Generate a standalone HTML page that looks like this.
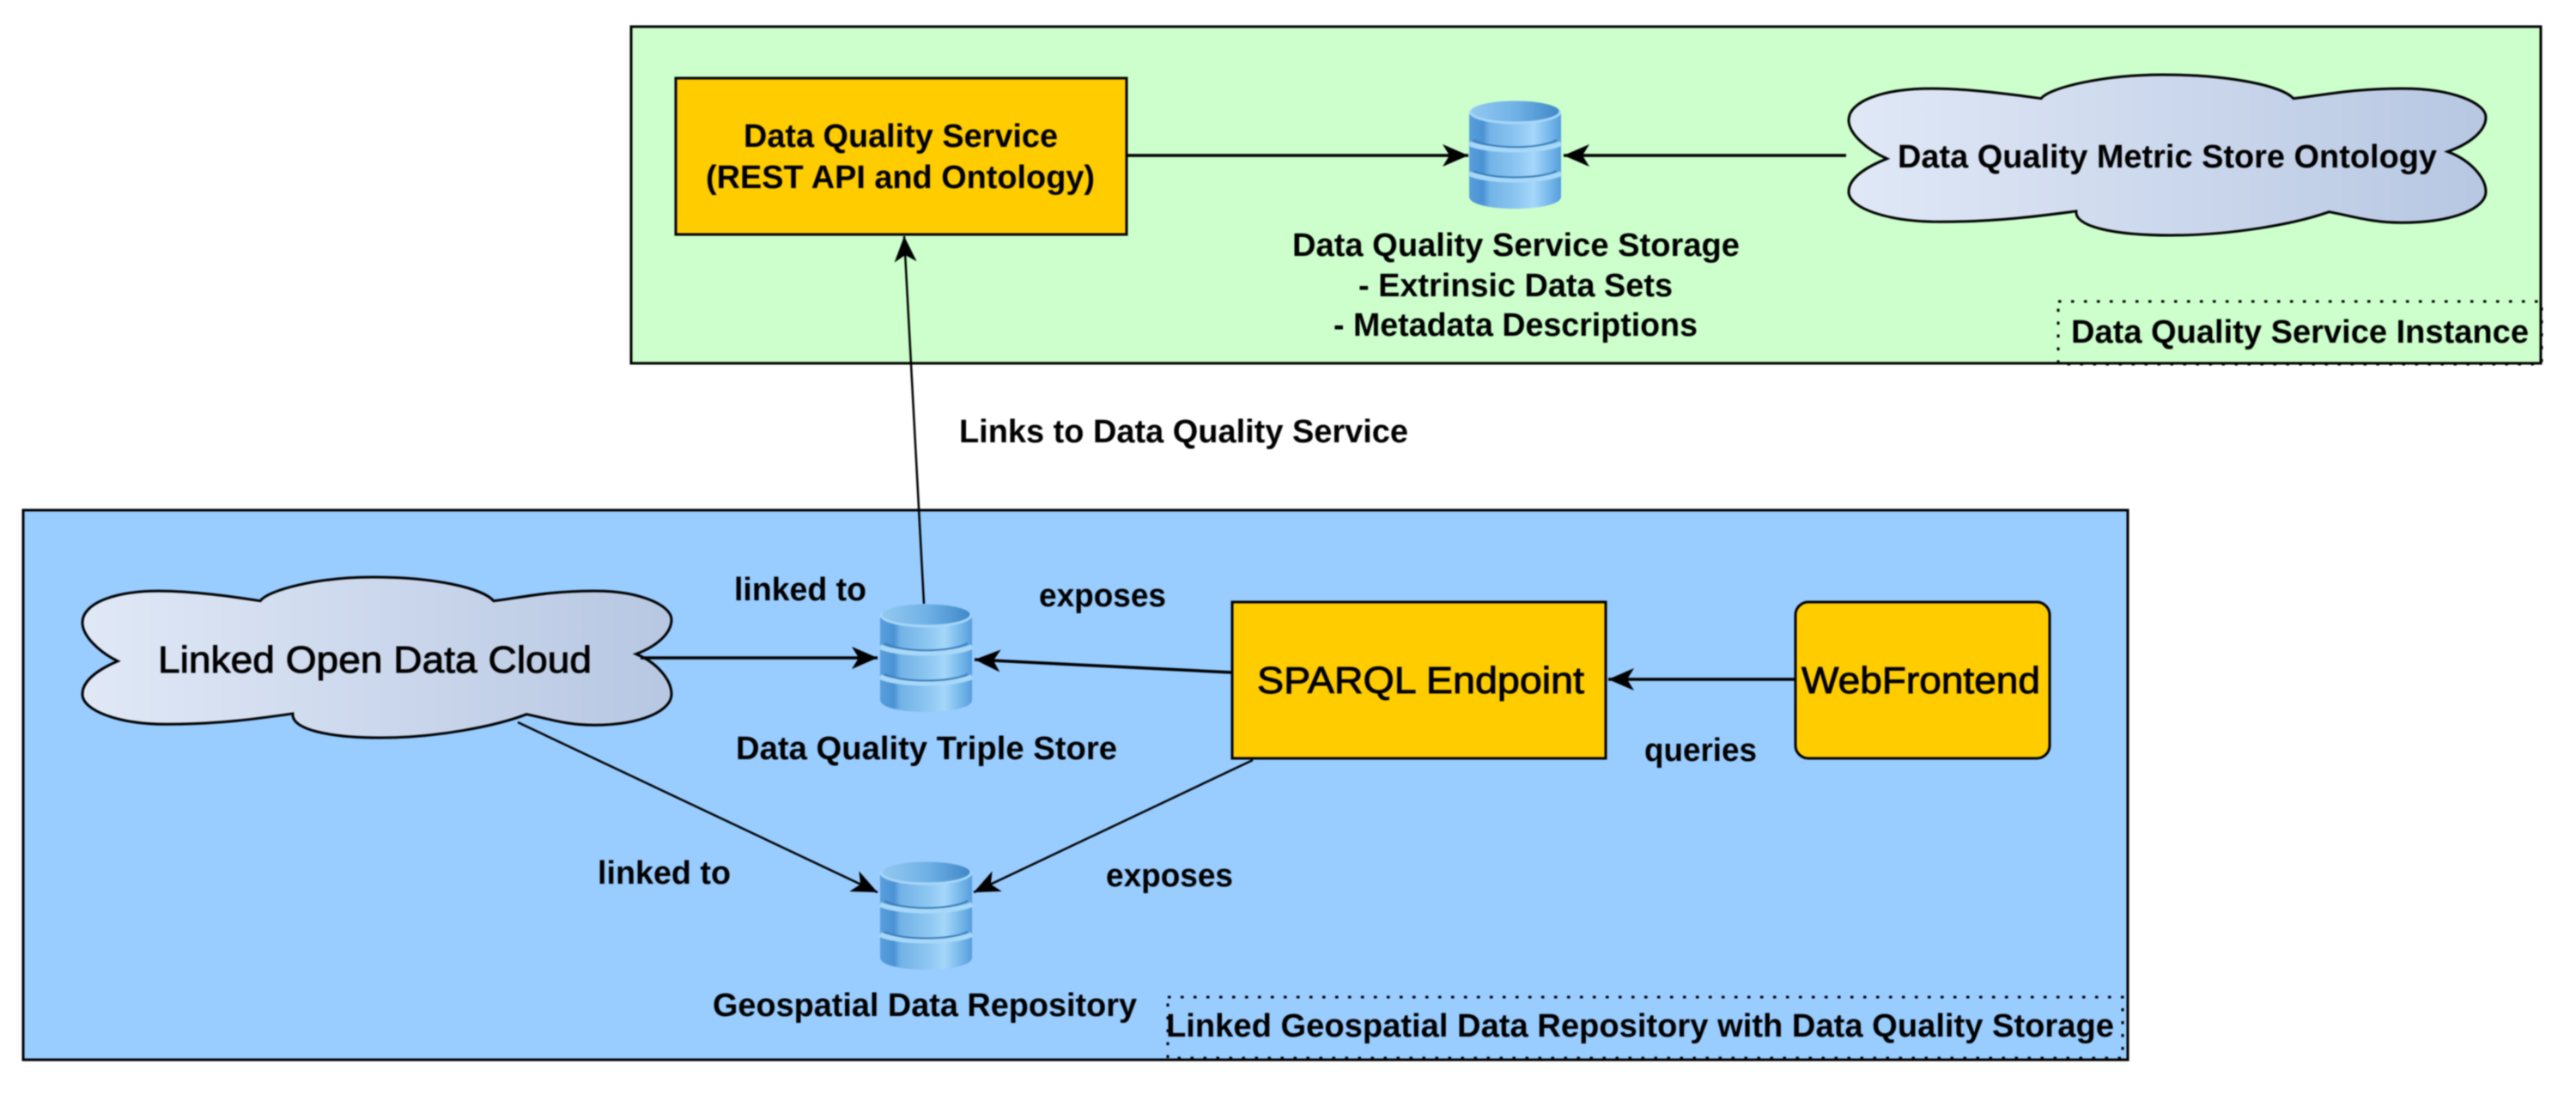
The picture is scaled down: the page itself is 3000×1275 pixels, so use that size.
<!DOCTYPE html>
<html>
<head>
<meta charset="utf-8">
<style>
html,body{margin:0;padding:0;background:#fff}
svg{display:block;filter:blur(0.9px)}
text{font-family:"Liberation Sans",sans-serif;font-weight:bold;fill:#000;font-size:38px}
.r{font-weight:normal;stroke:#000;stroke-width:0.9px;font-size:44px}
.ln{fill:none;stroke:#000;stroke-width:3.5}
.th{fill:none;stroke:#000;stroke-width:2.5}
.dot{fill:none;stroke:#000;stroke-width:3;stroke-dasharray:3.5 11.5}
</style>
</head>
<body>
<svg xmlns="http://www.w3.org/2000/svg" width="3000" height="1275" viewBox="0 0 3000 1275">
<defs>
<linearGradient id="cg" x1="0" x2="1" y1="0" y2="0"><stop offset="0" stop-color="#e0e8f6"/><stop offset="1" stop-color="#b7c7e2"/></linearGradient>
<linearGradient id="bd" x1="0" x2="1" y1="0" y2="0"><stop offset="0" stop-color="#5a9fdc"/><stop offset=".15" stop-color="#4a92d4"/><stop offset=".22" stop-color="#72b2e6"/><stop offset=".55" stop-color="#90c9f3"/><stop offset=".7" stop-color="#a6d7fa"/><stop offset=".88" stop-color="#74b6ea"/><stop offset="1" stop-color="#569cdc"/></linearGradient>
<linearGradient id="tp" x1="0" x2="1" y1="0" y2="0"><stop offset="0" stop-color="#92c8f0"/><stop offset=".5" stop-color="#70b2e6"/><stop offset="1" stop-color="#4088c8"/></linearGradient>
<marker id="a" markerUnits="userSpaceOnUse" viewBox="0 0 30 26" markerWidth="30" markerHeight="26" refX="30" refY="13" orient="auto"><path d="M30,13 L0,0 L8,13 L0,26 Z" fill="#000"/></marker>
<path id="cl" d="M60,523 C30,470 0,370 0,282 C0,170 50,86 130,86 C190,86 260,125 302,148 C315,80 400,0 493,0 C600,0 680,70 698,148 C750,125 790,86 870,86 C950,86 1000,180 1000,264 C1000,350 975,430 940,479 C975,530 1000,640 1000,729 C1000,830 950,921 868,921 C820,921 790,880 754,854 C700,930 600,1000 506,1000 C420,1000 355,950 357,850 C300,880 230,916 144,916 C60,916 0,830 0,729 C0,640 30,570 60,523 Z" fill="url(#cg)" stroke="#000" stroke-width="3" vector-effect="non-scaling-stroke"/>
<g id="cy">
<path d="M0,16 V112 C0,121 25,126 53.5,126 C82,126 107,121 107,112 V16 Z" fill="url(#bd)"/>
<path d="M0,50 C20,60 87,60 107,50" fill="none" stroke="#a8d8f8" stroke-width="6"/>
<path d="M0,85 C20,95 87,95 107,85" fill="none" stroke="#a8d8f8" stroke-width="6"/>
<path d="M5,46 C25,57 82,57 102,46" fill="none" stroke="#3a7cb8" stroke-width="2"/>
<path d="M5,82 C25,92 82,92 102,82" fill="none" stroke="#3a7cb8" stroke-width="2"/>
<ellipse cx="53.5" cy="14" rx="53.5" ry="13.5" fill="#a6d6f8"/>
<ellipse cx="53.5" cy="12.5" rx="51" ry="12" fill="url(#tp)"/>
</g>
</defs>

<rect x="735" y="31" width="2224" height="392" fill="#ccffcc" stroke="#000" stroke-width="3"/>
<rect x="27" y="594" width="2451" height="640" fill="#99ccff" stroke="#000" stroke-width="3"/>

<!-- dotted label frames -->
<rect x="2397" y="351" width="563" height="73" class="dot"/>
<rect x="1360" y="1161" width="1112" height="71" class="dot"/>

<!-- boxes -->
<rect x="787" y="91" width="525" height="182" fill="#ffcc00" stroke="#000" stroke-width="3"/>
<rect x="1435" y="701" width="435" height="182" fill="#ffcc00" stroke="#000" stroke-width="3"/>
<rect x="2091" y="701" width="296" height="182" rx="15" ry="15" fill="#ffcc00" stroke="#000" stroke-width="3"/>

<!-- clouds -->
<use href="#cl" transform="translate(2153 87) scale(.742 .187)"/>
<use href="#cl" transform="translate(96 672) scale(.686 .187)"/>

<!-- cylinders -->
<use href="#cy" transform="translate(1711 117)"/>
<use href="#cy" transform="translate(1025 703)"/>
<use href="#cy" transform="translate(1025 1003)"/>

<!-- connectors -->
<line x1="1312" y1="181" x2="1710" y2="181" class="ln" marker-end="url(#a)"/>
<line x1="2150" y1="181" x2="1821" y2="181" class="ln" marker-end="url(#a)"/>
<line x1="1076" y1="703" x2="1053" y2="275" class="th" marker-end="url(#a)"/>
<line x1="746" y1="766" x2="1022" y2="766" class="ln" marker-end="url(#a)"/>
<line x1="1435" y1="783" x2="1135" y2="768" class="ln" marker-end="url(#a)"/>
<line x1="603" y1="841" x2="1022" y2="1039" class="th" marker-end="url(#a)"/>
<line x1="1459" y1="885" x2="1134" y2="1039" class="th" marker-end="url(#a)"/>
<line x1="2091" y1="791" x2="1873" y2="791" class="ln" marker-end="url(#a)"/>

<!-- labels -->
<text x="866" y="171" textLength="366" lengthAdjust="spacingAndGlyphs">Data Quality Service</text>
<text x="822" y="219" textLength="453" lengthAdjust="spacingAndGlyphs">(REST API and Ontology)</text>
<text x="1505" y="298" textLength="521" lengthAdjust="spacingAndGlyphs">Data Quality Service Storage</text>
<text x="1582" y="345" textLength="366" lengthAdjust="spacingAndGlyphs">- Extrinsic Data Sets</text>
<text x="1553" y="391" textLength="424" lengthAdjust="spacingAndGlyphs">- Metadata Descriptions</text>
<text x="2210" y="195" textLength="628" lengthAdjust="spacingAndGlyphs">Data Quality Metric Store Ontology</text>
<text x="2412" y="399" textLength="533" lengthAdjust="spacingAndGlyphs">Data Quality Service Instance</text>
<text x="1117" y="515" textLength="523" lengthAdjust="spacingAndGlyphs">Links to Data Quality Service</text>
<text x="855" y="699" textLength="154" lengthAdjust="spacingAndGlyphs">linked to</text>
<text x="1210" y="706" textLength="148" lengthAdjust="spacingAndGlyphs">exposes</text>
<text x="184" y="783" textLength="505" lengthAdjust="spacingAndGlyphs" class="r">Linked Open Data Cloud</text>
<text x="1464" y="807" textLength="381" lengthAdjust="spacingAndGlyphs" class="r">SPARQL Endpoint</text>
<text x="2098" y="807" textLength="278" lengthAdjust="spacingAndGlyphs" class="r">WebFrontend</text>
<text x="857" y="884" textLength="444" lengthAdjust="spacingAndGlyphs">Data Quality Triple Store</text>
<text x="1915" y="886" textLength="131" lengthAdjust="spacingAndGlyphs">queries</text>
<text x="696" y="1029" textLength="155" lengthAdjust="spacingAndGlyphs">linked to</text>
<text x="1288" y="1032" textLength="148" lengthAdjust="spacingAndGlyphs">exposes</text>
<text x="830" y="1183" textLength="494" lengthAdjust="spacingAndGlyphs">Geospatial Data Repository</text>
<text x="1358" y="1207" textLength="1104" lengthAdjust="spacingAndGlyphs">Linked Geospatial Data Repository with Data Quality Storage</text>
</svg>
</body>
</html>
